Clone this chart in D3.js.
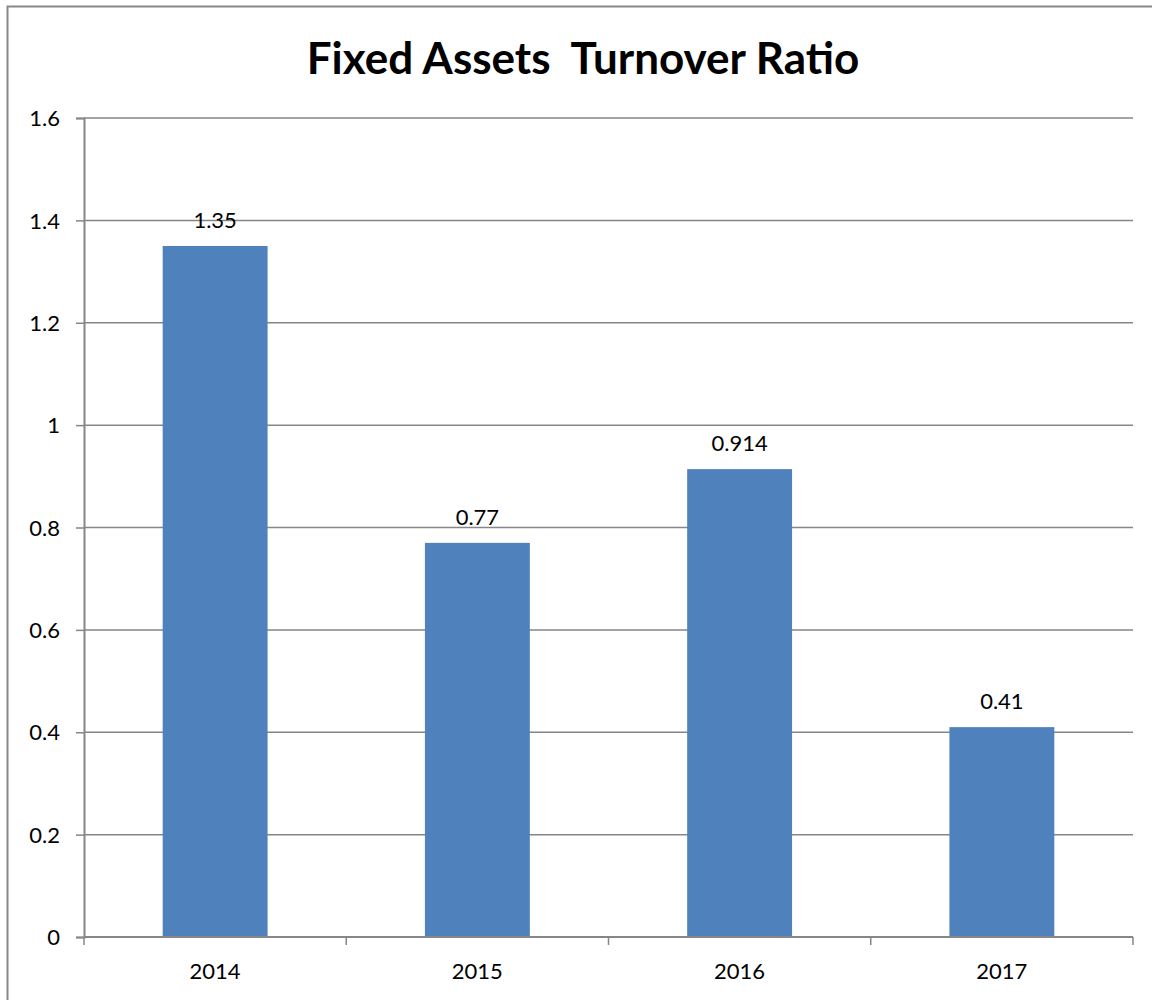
<!DOCTYPE html>
<html>
<head>
<meta charset="utf-8">
<script src="https://cdn.jsdelivr.net/npm/d3@7"></script>
<style>
  body { margin: 0; background: #fff; }
  text { font-family: Lato, "Open Sans", sans-serif; fill: #000; }
</style>
</head>
<body>
<div id="chart"></div>
<script>
// data
const years = ["2014", "2015", "2016", "2017"]
const ratios = [1.35, 0.77, 0.914, 0.41]
const yTicks = [0, 0.2, 0.4, 0.6, 0.8, 1, 1.2, 1.4, 1.6]

var width = 1152,
    height = 1000
var margin = {top: 118, left: 84, right: 19, bottom: 63}

var svg = d3.select("#chart")
  .append("svg")
    .attr("width", width)
    .attr("height", height)

// outer frame
svg.append("rect")
  .attr("x", 7.5).attr("y", 6.5)
  .attr("width", width + 10).attr("height", height + 10)
  .attr("fill", "none")
  .attr("stroke", "#888")
  .attr("stroke-width", 2)

var x = d3.scaleBand()
  .domain(years)
  .range([margin.left, width - margin.right])
  .paddingInner(0.6)
  .paddingOuter(0.3)

var y = d3.scaleLinear()
  .domain([0, 1.6])
  .range([height - margin.bottom, margin.top])

// grid lines
svg.append("g")
  .selectAll("line")
  .data(yTicks.slice(1))
  .enter()
  .append("line")
    .attr("x1", margin.left).attr("x2", width - margin.right)
    .attr("y1", d => y(d)).attr("y2", d => y(d))
    .attr("stroke", "#868686")
    .attr("stroke-width", 1.5)

// bars
svg.append("g")
  .selectAll("rect")
  .data(ratios)
  .enter()
  .append("rect")
    .attr("x", (d, i) => x(years[i]))
    .attr("y", d => y(d))
    .attr("width", x.bandwidth())
    .attr("height", d => y(0) - y(d))
    .attr("fill", "#4f81bd")

// value labels
svg.append("g")
  .selectAll("text")
  .data(ratios)
  .enter()
  .append("text")
    .attr("x", (d, i) => x(years[i]) + x.bandwidth() / 2)
    .attr("y", d => y(d) - 18)
    .attr("text-anchor", "middle")
    .style("font-size", "22px")
    .text(d => d)

// y axis
var yAxis = svg.append("g")
  .attr("transform", "translate(" + margin.left + ",0)")
  .call(d3.axisLeft(y).tickValues(yTicks).tickFormat(d => d).tickSize(8).tickPadding(16))
yAxis.select(".domain").attr("stroke", "#868686").attr("stroke-width", 2)
yAxis.selectAll(".tick line").attr("stroke", "#868686").attr("stroke-width", 1.5)
yAxis.selectAll("text").style("font-size", "22px").attr("dy", "0.35em")

// x axis, ticks sit between the categories
var xAxis = svg.append("g")
  .attr("transform", "translate(0," + y(0) + ")")
xAxis.append("line")
  .attr("x1", margin.left).attr("x2", width - margin.right)
  .attr("stroke", "#868686").attr("stroke-width", 2)
var edges = d3.range(years.length + 1).map(i => margin.left + i * x.step())
xAxis.selectAll(".xt")
  .data(edges)
  .enter()
  .append("line")
    .attr("x1", d => d).attr("x2", d => d)
    .attr("y1", 0).attr("y2", 8)
    .attr("stroke", "#868686").attr("stroke-width", 1.5)
xAxis.selectAll(".xl")
  .data(years)
  .enter()
  .append("text")
    .attr("x", d => x(d) + x.bandwidth() / 2)
    .attr("y", 42)
    .attr("text-anchor", "middle")
    .style("font-size", "22px")
    .text(d => d)

// title
svg.append("text")
  .attr("x", 583)
  .attr("y", 74)
  .attr("text-anchor", "middle")
  .style("font-size", "44px")
  .style("font-weight", "bold")
  .attr("xml:space", "preserve")
  .text("Fixed Assets  Turnover Ratio")
</script>
</body>
</html>
